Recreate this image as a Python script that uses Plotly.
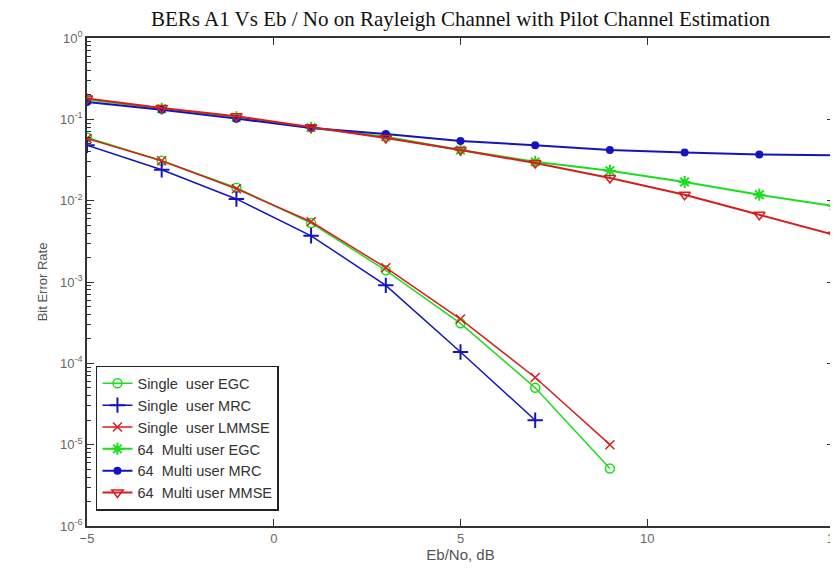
import plotly.graph_objects as go

ebno = [-5, -3, -1, 1, 3, 5, 7, 9, 11, 13, 15]
ebno_single_mrc = [-5, -3, -1, 1, 3, 5, 7]
ebno_single = [-5, -3, -1, 1, 3, 5, 7, 9]

single_egc = [0.060, 0.031, 0.0144, 0.0053, 1.39e-3, 3.1e-4, 5.0e-5, 5.1e-6]
single_mrc = [0.048, 0.024, 0.0105, 0.0037, 9.1e-4, 1.38e-4, 2.0e-5]
single_lmmse = [0.058, 0.031, 0.0140, 0.0055, 1.5e-3, 3.5e-4, 6.7e-5, 1.0e-5]
multi_egc = [0.175, 0.135, 0.106, 0.079, 0.061, 0.042, 0.030, 0.0234, 0.017, 0.0118, 0.0086]
multi_mrc = [0.163, 0.131, 0.102, 0.078, 0.066, 0.054, 0.048, 0.042, 0.039, 0.037, 0.036]
multi_mmse = [0.180, 0.138, 0.109, 0.080, 0.059, 0.042, 0.029, 0.019, 0.0118, 0.0067, 0.0038]

ytick_vals = [1, 0.1, 0.01, 1e-3, 1e-4, 1e-5, 1e-6]
ytick_text = ["10<sup>0</sup>", "10<sup>-1</sup>", "10<sup>-2</sup>", "10<sup>-3</sup>",
              "10<sup>-4</sup>", "10<sup>-5</sup>", "10<sup>-6</sup>"]
ytick_minor = [m * 10.0 ** e for e in range(-6, 0) for m in range(2, 10)]
xtick_vals = [-5, 0, 5, 10, 15]

GREEN = "rgb(30,220,30)"
BLUE = "rgb(20,20,190)"
RED = "rgb(215,30,30)"

fig = go.Figure()
fig.add_trace(go.Scatter(x=ebno_single, y=single_egc, name="Single  user EGC", mode="lines+markers",
                         line=dict(color=GREEN, width=1.5),
                         marker=dict(symbol="circle-open", size=9, color=GREEN, line=dict(width=1.5))))
fig.add_trace(go.Scatter(x=ebno_single_mrc, y=single_mrc, name="Single  user MRC", mode="lines+markers",
                         line=dict(color=BLUE, width=1.5),
                         marker=dict(symbol="cross-thin", size=11, color=BLUE, line=dict(width=2, color=BLUE))))
fig.add_trace(go.Scatter(x=ebno_single, y=single_lmmse, name="Single  user LMMSE", mode="lines+markers",
                         line=dict(color=RED, width=1.5),
                         marker=dict(symbol="x-thin", size=9, color=RED, line=dict(width=1.5, color=RED))))
fig.add_trace(go.Scatter(x=ebno, y=multi_egc, name="64  Multi user EGC", mode="lines+markers",
                         line=dict(color=GREEN, width=2),
                         marker=dict(symbol="asterisk-open", size=10, color=GREEN, line=dict(width=2, color=GREEN))))
fig.add_trace(go.Scatter(x=ebno, y=multi_mrc, name="64  Multi user MRC", mode="lines+markers",
                         line=dict(color=BLUE, width=2),
                         marker=dict(symbol="circle", size=8, color=BLUE)))
fig.add_trace(go.Scatter(x=ebno, y=multi_mmse, name="64  Multi user MMSE", mode="lines+markers",
                         line=dict(color=RED, width=2),
                         marker=dict(symbol="triangle-down-open", size=10, color=RED, line=dict(width=1.5, color=RED))))

axis_common = dict(showline=True, linecolor="#333333", linewidth=1.5, mirror="allticks",
                   ticks="inside", tickcolor="#333333", tickwidth=1.2, showgrid=False, zeroline=False,
                   ticklabeloverflow="allow",
                   tickfont=dict(family="Liberation Sans, Arial", size=13, color="#666666"))

fig.update_xaxes(range=[-5, 15], tickvals=xtick_vals, ticklen=7,
                 title=dict(text="Eb/No, dB", font=dict(family="Liberation Sans, Arial", size=15, color="#555555"),
                            standoff=3),
                 **axis_common)
fig.update_yaxes(type="log", range=[-6, 0], tickvals=ytick_vals, ticktext=ytick_text, ticklen=7,
                 minor=dict(ticks="inside", ticklen=4, tickcolor="#333333", tickwidth=1.2,
                            tickvals=ytick_minor, showgrid=False),
                 title=dict(text="Bit Error Rate", font=dict(family="Liberation Sans, Arial", size=13, color="#555555"),
                            standoff=10),
                 **axis_common)

fig.update_layout(
    width=838, height=568,
    margin=dict(l=79, r=5, t=30, b=50),
    paper_bgcolor="white", plot_bgcolor="white",
    title=dict(text="BERs A1 Vs Eb / No on Rayleigh Channel with Pilot Channel Estimation",
               xref="paper", x=0.5, xanchor="center", y=0.995, yanchor="top",
               font=dict(family="Liberation Serif, Times New Roman", size=21, color="#111111")),
    legend=dict(x=0.012, y=0.031, xanchor="left", yanchor="bottom",
                bgcolor="white", bordercolor="#222222", borderwidth=1.5,
                font=dict(family="Liberation Sans, Arial", size=14.5, color="#333333"),
                tracegroupgap=0),
    showlegend=True,
)

fig.write_html("out.html")
